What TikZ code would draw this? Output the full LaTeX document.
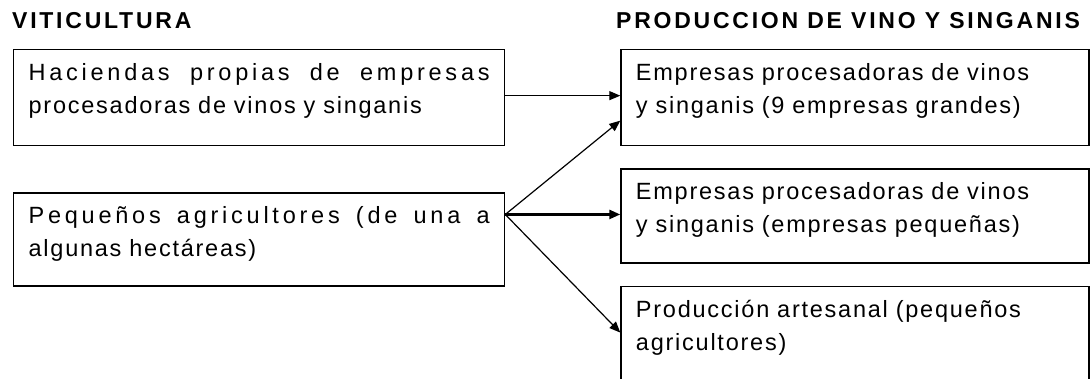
\documentclass[tikz,border=0pt]{standalone}
\usepackage{fontspec}
\setmainfont{Liberation Sans}
\usetikzlibrary{arrows.meta, positioning}
\newcommand{\cuerpo}{\fontsize{23.5}{33}\selectfont\addfontfeatures{LetterSpace=7.5}}
\newcommand{\titular}{\fontsize{23}{26}\selectfont\bfseries\addfontfeatures{LetterSpace=12}}
\newcommand{\renglon}[1]{\makebox[\hsize][s]{\addfontfeatures{LetterSpace=16}\spaceskip=0pt\relax #1}}
\tikzset{
    caja/.style={rectangle, draw=black, line width=1.3pt, align=left, inner xsep=15pt, inner ysep=14pt, text height=17pt, font=\cuerpo},
    izq/.style={caja, text width=461pt},
    der/.style={caja, text width=438pt},
    titulo/.style={inner sep=0pt, anchor=base west, font=\titular},
    flecha/.style={-{Triangle[length=11pt, width=9pt]}, line width=1.2pt}
}
\begin{document}
\begin{tikzpicture}[x=1pt, y=1pt]
    \clip (0,0) rectangle (1091,-378);
    \node (vitic) [titulo] at (12,-28) {VITICULTURA};
    \node (prod) [titulo] at (616,-28) {PRODUCCION DE VINO Y SINGANIS};

    \node (hacienda) [izq, anchor=north west, text depth=51pt] at (13,-49) {\renglon{Haciendas propias de empresas}\\procesadoras de vinos y singanis};
    \node (pequenos) [izq, below=46pt of hacienda, text depth=48pt] {\renglon{Pequeños agricultores (de una a}\\algunas hectáreas)};

    \node (grandes) [der, right=115pt of hacienda, text depth=51pt] {Empresas procesadoras de vinos\\y singanis (9 empresas grandes)};
    \node (pequenas) [der, below=22pt of grandes, text depth=49pt] {Empresas procesadoras de vinos\\y singanis (empresas pequeñas)};
    \node (artesanal) [der, below=22pt of pequenas, text depth=65pt] {Producción artesanal (pequeños\\agricultores)};

    \coordinate (salida) at ([yshift=25pt]pequenos.east);
    \draw [flecha] ([yshift=2pt]hacienda.east) -- ([yshift=2pt]grandes.west);
    \draw [flecha] (salida) -- ([yshift=-23pt]grandes.west);
    \draw [flecha, line width=2.5pt] (salida) -- (salida -| pequenas.west);
    \draw [flecha] (salida) -- ([yshift=-47pt]artesanal.north west);
\end{tikzpicture}
\end{document}
